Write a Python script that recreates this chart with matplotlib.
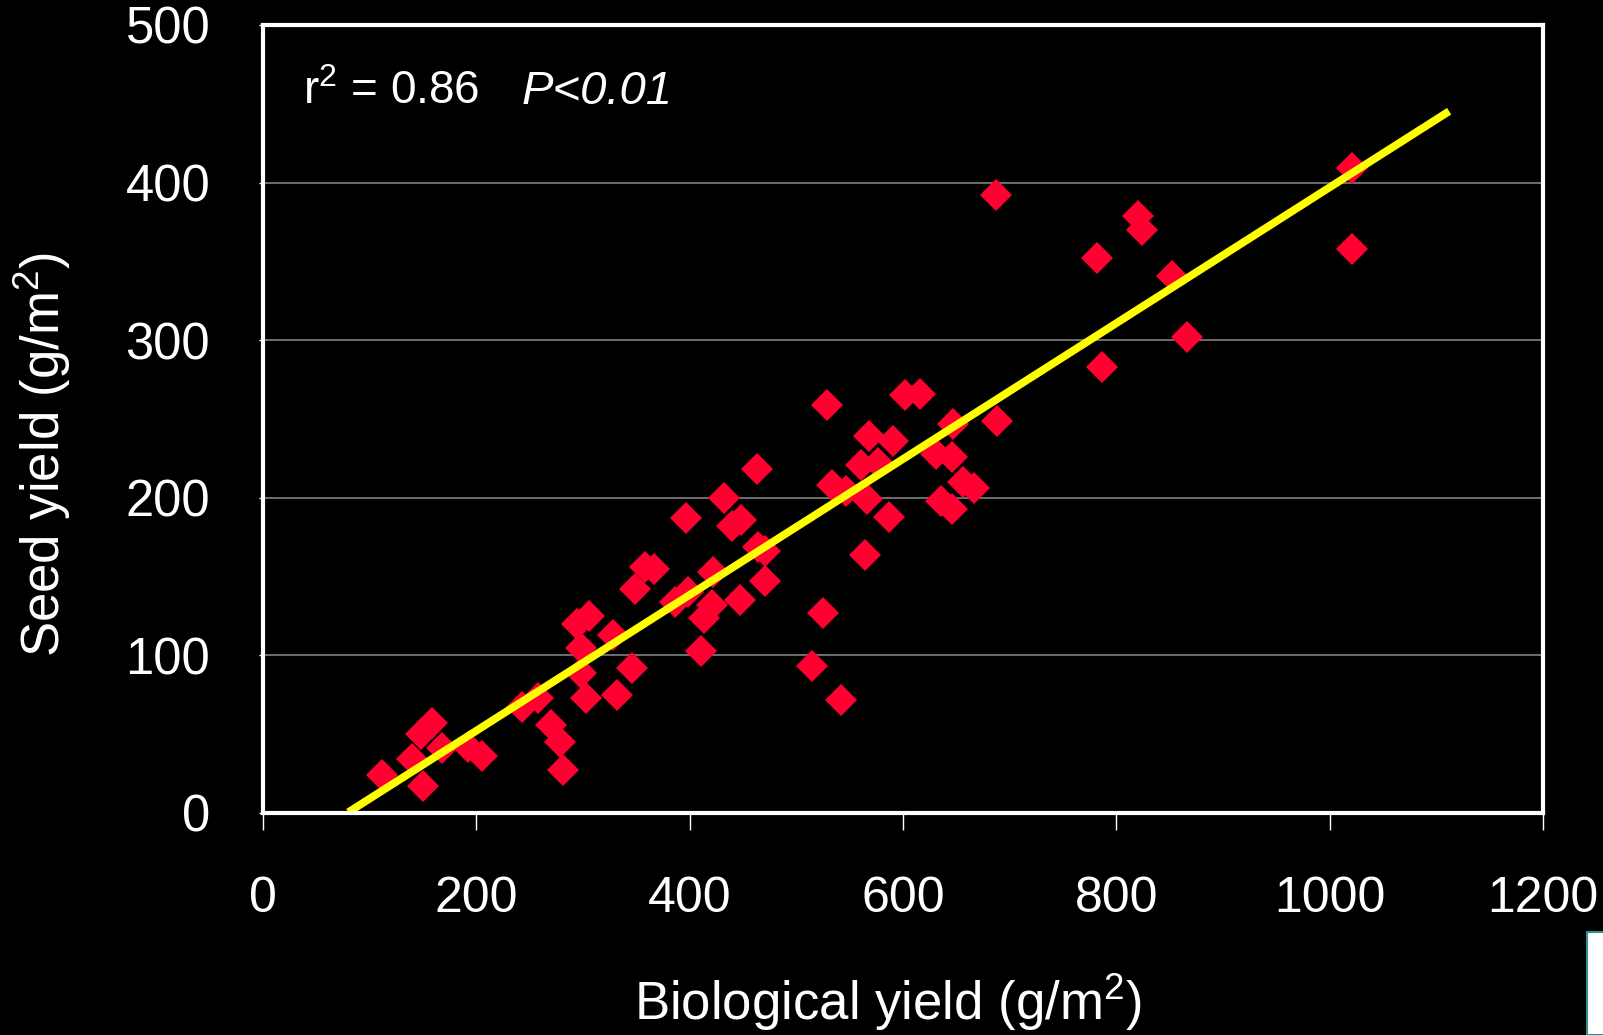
import matplotlib
matplotlib.use("Agg")
import matplotlib.pyplot as plt
from matplotlib.patches import Rectangle
import numpy as np

plt.rcParams['font.family'] = ['Liberation Sans', 'DejaVu Sans']
plt.rcParams['mathtext.fontset'] = 'custom'
plt.rcParams['mathtext.rm'] = 'Liberation Sans'
plt.rcParams['mathtext.it'] = 'Liberation Sans:italic'
plt.rcParams['mathtext.default'] = 'regular'

# Biological yield (g/m2) and seed yield (g/m2)
bio_yield = [112, 140, 150, 148, 158, 168, 192, 205, 243, 258, 270, 278, 281,
             294, 306, 298, 298, 303, 328, 332, 346, 349, 358, 367, 386, 398,
             397, 411, 413, 421, 422, 432, 440, 448, 447, 463, 464, 471, 471,
             515, 525, 529, 533, 542, 547, 561, 564, 566, 568, 577, 587, 591,
             602, 616, 631, 636, 646, 646, 647, 656, 667, 688, 687,
             782, 787, 820, 824, 852, 866, 1021, 1021]
seed_yield = [24, 34, 17, 50, 57, 41, 42, 36, 67, 73, 56, 45, 27,
              120, 125, 105, 89, 73, 113, 75, 92, 142, 156, 155, 134, 140,
              187, 103, 124, 132, 153, 200, 182, 186, 135, 218, 169, 166, 147,
              93, 127, 259, 208, 72, 204, 221, 164, 199, 239, 222, 188, 236,
              265, 266, 228, 198, 226, 193, 247, 210, 206, 249, 392,
              352, 283, 379, 370, 341, 302, 409, 358]

# Regression line
fit_intercept = -34.0
fit_slope = 0.431
fit_range = [80, 1112]

x_ticks = [0, 200, 400, 600, 800, 1000, 1200]
y_ticks = [0, 100, 200, 300, 400, 500]

fig = plt.figure(figsize=(16.03, 10.35), dpi=100, facecolor='black')
ax = fig.add_axes([263/1603, 1-813/1035, 1280/1603, 788/1035])
ax.set_facecolor('black')

ax.set_xlim(0, 1200)
ax.set_ylim(0, 500)
ax.set_xticks(x_ticks)
ax.set_yticks(y_ticks)

for y in y_ticks[1:-1]:
    ax.axhline(y, color='#8c8c8c', lw=1.1, zorder=1)

ax.plot(bio_yield, seed_yield, linestyle='none', marker='D', markersize=16.5,
        markerfacecolor='#ff0030', markeredgecolor='#ff0030', markeredgewidth=0,
        zorder=3)

fx = np.array(fit_range, dtype=float)
ax.plot(fx, fit_intercept + fit_slope * fx, color='#ffff00', lw=5.6,
        solid_capstyle='butt', zorder=4)

for s in ax.spines.values():
    s.set_color('white')
    s.set_linewidth(3)
    s.set_zorder(5)

ax.tick_params(axis='x', direction='out', length=12, width=1, colors='white',
               labelsize=36, pad=33)
ax.tick_params(axis='y', direction='out', length=3, width=1, colors='white',
               labelsize=36.5, pad=35)

ax.set_xlabel('Biological yield (g/m$^{2}$)', color='white', fontsize=38)
ax.xaxis.set_label_coords(0.488, -0.24)
ax.xaxis.label.set_va('center')
ax.set_ylabel('Seed yield (g/m$^{2}$)', color='white', fontsize=38)
ax.yaxis.set_label_coords(-0.172, 0.455)
ax.yaxis.label.set_va('center')

ax.text(0.031, 0.915, 'r$^{2}$ = 0.86', transform=ax.transAxes, color='white',
        fontsize=33, ha='left', va='center')
ax.text(0.2023, 0.915, 'P<0.01', transform=ax.transAxes, color='white',
        fontsize=34, ha='left', va='center', style='italic')

fig.patches.append(Rectangle((1587/1603, 0), 20/1603, 103/1035,
                             transform=fig.transFigure, facecolor='white',
                             edgecolor='#2a9090', lw=1.5))

fig.savefig('out.png', dpi=100, facecolor='black')
